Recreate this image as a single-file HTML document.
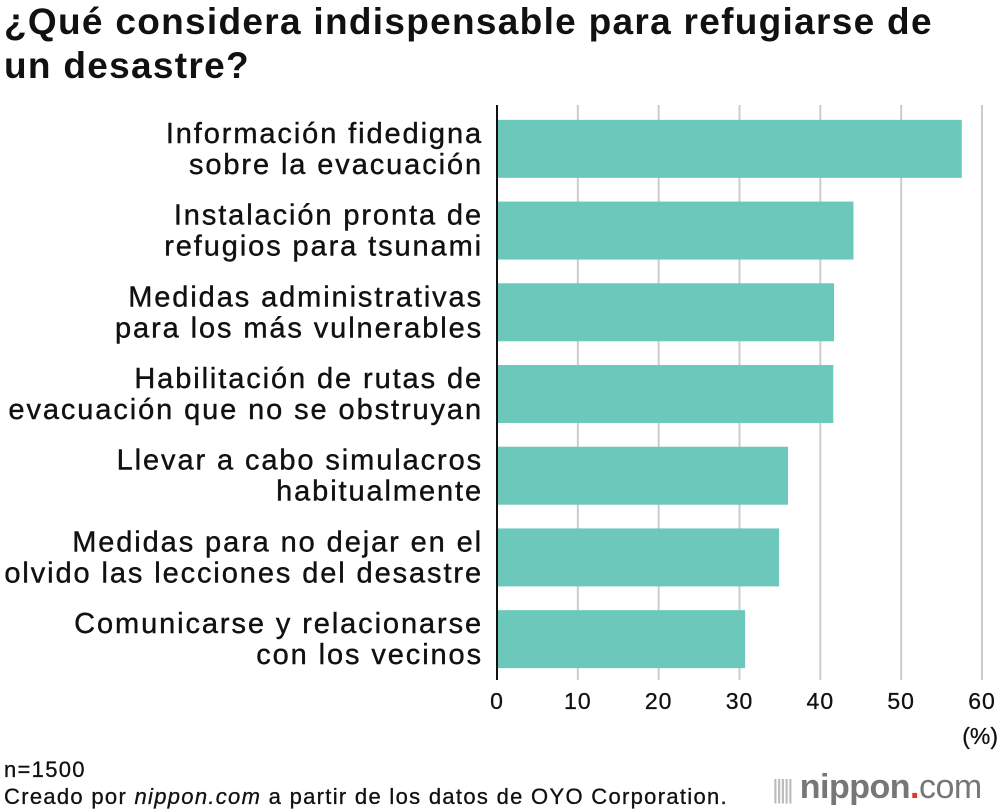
<!DOCTYPE html>
<html><head><meta charset="utf-8"><style>
body{margin:0;width:1000px;height:812px;background:#fff;font-family:"Liberation Sans",sans-serif;overflow:hidden;position:relative}
.t{position:absolute;left:4px;top:0px;font-size:37px;font-weight:bold;line-height:44px;color:#111;letter-spacing:1.3px}
.f{position:absolute;left:4px;font-size:22px;color:#111;letter-spacing:1.3px;-webkit-text-stroke:0.3px #111}
</style></head><body>
<div class="t">¿Qué considera indispensable para refugiarse de<br>un desastre?</div>
<svg id="c" width="1000" height="812" style="position:absolute;left:0;top:0"></svg>
<div class="f" style="top:757px">n=1500</div>
<div class="f" style="top:784px">Creado por <i>nippon.com</i> a partir de los datos de OYO Corporation.</div>
<div style="position:absolute;left:772px;top:768px;font-size:34px;color:#777;font-weight:bold;letter-spacing:-0.5px"><span style="font-weight:normal;color:#bbb;font-size:26px;letter-spacing:-3px">|||||</span> nippon<span style="color:#e83030">.</span><span style="font-weight:normal">com</span></div>
<script>
const categories=[["Información fidedigna","sobre la evacuación"],["Instalación pronta de","refugios para tsunami"],["Medidas administrativas","para los más vulnerables"],["Habilitación de rutas de","evacuación que no se obstruyan"],["Llevar a cabo simulacros","habitualmente"],["Medidas para no dejar en el","olvido las lecciones del desastre"],["Comunicarse y relacionarse","con los vecinos"]];
const values=[57.5,44.1,41.7,41.6,36.0,34.9,30.7];
const ticks=[0,10,20,30,40,50,60];
const svg=document.getElementById('c');const NS='http://www.w3.org/2000/svg';
const x0=497,pxPer=(982-497)/60,top0=108,bot=680,step=(bot-top0)/categories.length,bh=58;
const xs=v=>x0+v*pxPer;
function mk(t,a){const e=document.createElementNS(NS,t);for(const k in a)e.setAttribute(k,a[k]);svg.appendChild(e);return e;}
ticks.forEach(t=>{
 if(t>0){const g=mk('line',{x1:xs(t),x2:xs(t),y1:top0-3,y2:bot,stroke:'#ccc','stroke-width':2});
 
 }
 const l=mk('text',{x:xs(t),y:709,'text-anchor':'middle','font-size':23,fill:'#111','letter-spacing':1,stroke:'#111','stroke-width':0.3});l.textContent=t;
 
 
});
const u=mk('text',{x:998,y:744,'text-anchor':'end','font-size':23,fill:'#111',stroke:'#111','stroke-width':0.3});u.textContent='(%)';


values.forEach((v,i)=>{
 const cy=top0+step*i+step/2;
 const r=mk('rect',{x:x0,y:cy-bh/2,width:xs(v)-x0,height:bh,fill:'#6cc8bb'});
 
 
 const t=mk('text',{x:483,y:cy-6,'text-anchor':'end','font-size':29,fill:'#111','letter-spacing':1.9,stroke:'#111','stroke-width':0.4});
 
 
 categories[i].forEach((s,j)=>{const ts=document.createElementNS(NS,'tspan');ts.setAttribute('x',483);ts.setAttribute('dy',j?31:0);ts.textContent=s;t.appendChild(ts);});
});
const ax=mk('line',{x1:x0,x2:x0,y1:top0-3,y2:bot,stroke:'#111','stroke-width':2});


</script>
</body></html>
